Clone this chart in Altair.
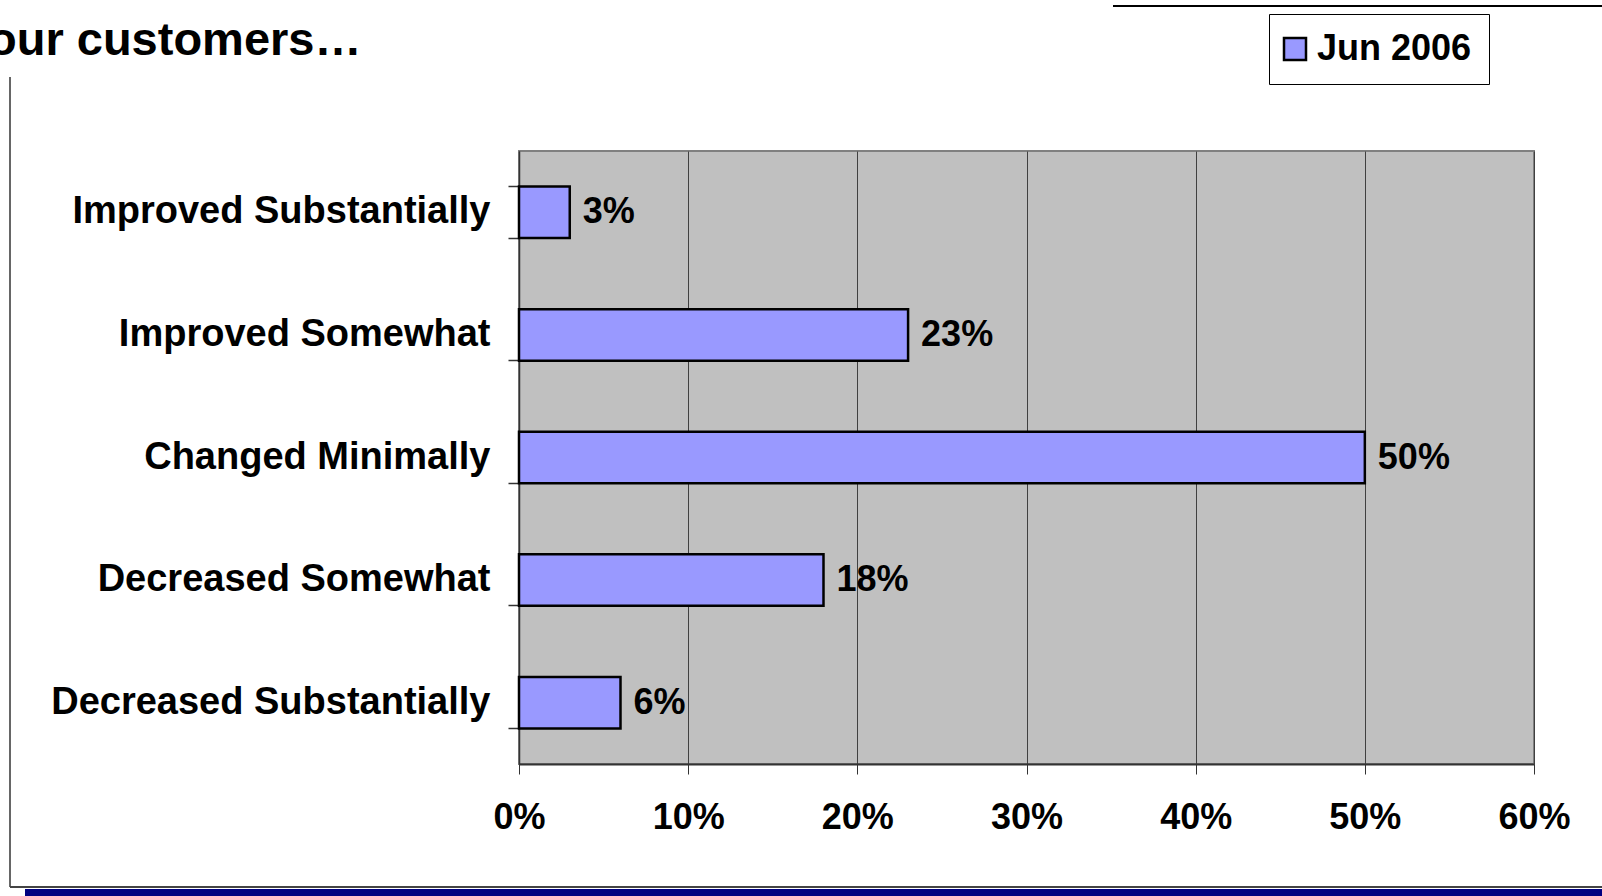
import altair as alt
import pandas as pd

# Survey answers, top to bottom, and the share of respondents for each
categories = [
    "Improved Substantially",
    "Improved Somewhat",
    "Changed Minimally",
    "Decreased Somewhat",
    "Decreased Substantially",
]
shares = [3, 23, 50, 18, 6]
series_name = "Jun 2006"
x_ticks = [0, 10, 20, 30, 40, 50, 60]

FONT = "Liberation Sans"
W, H = 1015, 613
PAD = {"left": 519, "top": 151, "right": 68, "bottom": 132}

df = pd.DataFrame({"category": categories, "value": shares, "series": series_name})

y_enc = alt.Y(
    "category:N",
    sort=categories,
    scale=alt.Scale(paddingInner=0.58, paddingOuter=0.29),
    axis=alt.Axis(
        title=None,
        labelFont=FONT,
        labelFontSize=38,
        labelFontWeight="bold",
        labelColor="black",
        labelPadding=18,
        labelLimit=800,
        tickSize=11,
        tickColor="#333333",
        tickWidth=1.5,
        domainColor="#333333",
        domainWidth=1.5,
        bandPosition=1,
        tickExtra=True,
        grid=False,
    ),
)
x_enc = alt.X(
    "value:Q",
    scale=alt.Scale(domain=[0, 60], nice=False),
    axis=alt.Axis(
        title=None,
        values=x_ticks,
        labelExpr="datum.value + '%'",
        labelFont=FONT,
        labelFontSize=36,
        labelFontWeight="bold",
        labelColor="black",
        labelPadding=26,
        labelFlush=False,
        tickSize=10,
        tickColor="#333333",
        tickWidth=1,
        domainColor="#333333",
        domainWidth=2,
        grid=True,
        gridColor="#404040",
        gridWidth=1,
    ),
)

base = alt.Chart(df)

bars = base.mark_bar(stroke="black", strokeWidth=2.5).encode(
    x=x_enc,
    y=y_enc,
    color=alt.Color(
        "series:N",
        scale=alt.Scale(domain=[series_name], range=["#9999FF"]),
        legend=alt.Legend(
            title=None,
            orient="none",
            legendX=750,
            legendY=-137,
            padding=17,
            symbolOffset=-9,
            strokeColor="black",
            fillColor="white",
            symbolType="square",
            symbolSize=484,
            symbolStrokeColor="black",
            symbolStrokeWidth=2.5,
            labelFont=FONT,
            labelFontSize=36,
            labelFontWeight="bold",
            labelColor="black",
            labelOffset=4,
        ),
    ),
)

labels = base.transform_calculate(label="datum.value + '%'").mark_text(
    align="left",
    baseline="middle",
    dx=13,
    font=FONT,
    fontSize=36,
    fontWeight="bold",
    color="black",
).encode(x="value:Q", y=alt.Y("category:N", sort=categories), text="label:N")

one = alt.Data(values=[{}])

# Slide furniture around the chart: heading, frame lines and footer band
heading = alt.Chart(one).mark_text(
    align="left", baseline="alphabetic", font=FONT, fontSize=47,
    fontWeight="bold", color="black",
).encode(x=alt.value(-531), y=alt.value(-96), text=alt.value("our customers…"))

frame_left = alt.Chart(one).mark_rule(color="#333333", strokeWidth=1.5).encode(
    x=alt.value(-509), y=alt.value(-74), y2=alt.value(736)
)
frame_bottom = alt.Chart(one).mark_rule(color="#444444", strokeWidth=2).encode(
    x=alt.value(-509), x2=alt.value(1083), y=alt.value(736)
)
top_line = alt.Chart(one).mark_rule(color="black", strokeWidth=2).encode(
    x=alt.value(594), x2=alt.value(1083), y=alt.value(-145)
)
footer = alt.Chart(one).mark_rect(color="#000080").encode(
    x=alt.value(-494), x2=alt.value(1083), y=alt.value(738), y2=alt.value(745)
)

chart = (
    alt.layer(bars, labels, heading, frame_left, frame_bottom, top_line, footer)
    .properties(
        width=W,
        height=H,
        padding=PAD,
        autosize=alt.AutoSizeParams(type="none"),
        background="white",
    )
    .configure_view(fill="#C0C0C0", stroke="#808080", strokeWidth=2)
)

chart.save("out.html", embed_options={"renderer": "svg", "actions": False})
